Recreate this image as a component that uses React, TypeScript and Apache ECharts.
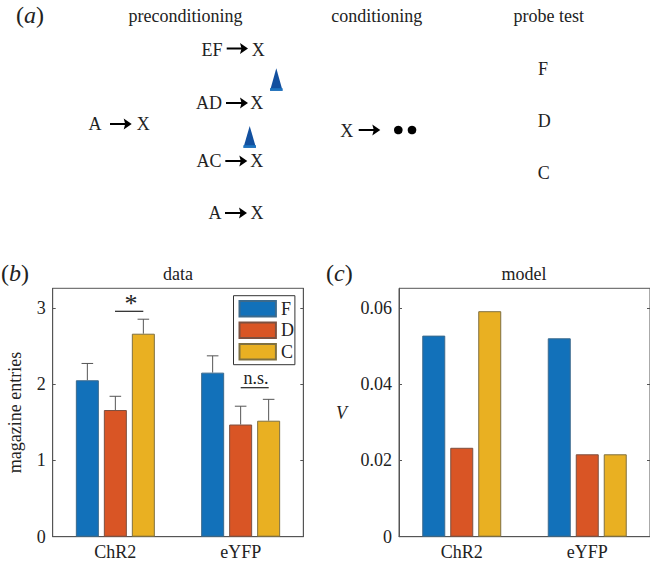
import React, { useEffect, useRef } from "react";
import * as echarts from "echarts";

const categories = ["ChR2", "eYFP"];
const cues = ["F", "D", "C"];
const dataF = [2.05, 2.15];
const dataD = [1.66, 1.47];
const dataC = [2.66, 1.52];
const errTopF = [2.27, 2.37];
const errTopD = [1.84, 1.71];
const errTopC = [2.85, 1.8];
const modelF = [0.0527, 0.052];
const modelD = [0.0233, 0.0216];
const modelC = [0.0591, 0.0216];
const dataTicks = [0, 1, 2, 3];
const modelTicks = [0, 0.02, 0.04, 0.06];

const FONT = "'Liberation Serif', serif";
const INK = "#222222";
const AXIS = "#555555";
const colors = ["#1271ba", "#d95525", "#e9b022"];
const borders = ["#3c6a8c", "#7d5040", "#7f7040"];
const BAR_W = 23;
const PITCH = 28;

const txt = (text: string, x: number, y: number, fontSize = 18, extra: any = {}) => ({
  type: "text",
  x,
  y,
  silent: true,
  style: { text, fontSize, fontFamily: FONT, fill: INK, align: "center", verticalAlign: "middle", ...extra },
});

const arrow = (x1: number, x2: number, y: number) => [
  { type: "line", silent: true, shape: { x1, y1: y, x2: x2 - 6, y2: y }, style: { stroke: "#000", lineWidth: 2 } },
  {
    type: "polygon",
    silent: true,
    shape: { points: [[x2 - 8, y - 5.5], [x2, y], [x2 - 8, y + 5.5], [x2 - 6.5, y]] },
    style: { fill: "#000" },
  },
];

const pointer = (cx: number, top: number, bottom: number) => [
  {
    type: "polygon",
    silent: true,
    shape: { points: [[cx, top], [cx + 6.3, bottom], [cx - 6.3, bottom]] },
    style: { fill: "#12509f" },
  },
  {
    type: "rect",
    silent: true,
    shape: { x: cx - 6.3, y: bottom - 2.5, width: 12.6, height: 2.5 },
    style: { fill: "#1c74c0" },
  },
];

const panelLabel = (letter: string, x: number, y: number) => ({
  type: "text",
  x,
  y,
  silent: true,
  style: {
    text: `{n|(}{i|${letter}}{n|)}`,
    verticalAlign: "middle",
    rich: {
      n: { fontSize: 24, fontFamily: FONT, fill: INK },
      i: { fontSize: 24, fontFamily: FONT, fontStyle: "italic", fill: INK },
    },
  },
});

const barSeries = (name: string, values: number[], idx: number, axis: number) => ({
  type: "bar",
  name,
  xAxisIndex: axis,
  yAxisIndex: axis * 2,
  data: values,
  barWidth: BAR_W,
  barGap: "21.7%",
  itemStyle: { color: colors[idx], borderColor: borders[idx], borderWidth: 1 },
});

const errorSeries = (tops: number[], values: number[], idx: number) => ({
  type: "custom",
  xAxisIndex: 0,
  yAxisIndex: 0,
  z: 1,
  silent: true,
  data: tops.map((t, i) => [i, values[i], t]),
  encode: { x: 0, y: 2 },
  renderItem: (_: any, api: any) => {
    const base = api.coord([api.value(0), api.value(1)]);
    const top = api.coord([api.value(0), api.value(2)]);
    const x = base[0] + (idx - 1) * PITCH;
    const style = { stroke: AXIS, lineWidth: 1, fill: "none" };
    return {
      type: "group",
      children: [
        { type: "line", shape: { x1: x, y1: base[1], x2: x, y2: top[1] }, style },
        { type: "line", shape: { x1: x - 5.8, y1: top[1], x2: x + 5.8, y2: top[1] }, style },
      ],
    };
  },
});

const xAxisBase = (gridIndex: number) => ({
  type: "category",
  gridIndex,
  data: categories,
  axisTick: { show: false },
  axisLine: { lineStyle: { color: AXIS } },
  axisLabel: { fontSize: 18, fontFamily: FONT, color: INK, margin: 6 },
});

const yAxisLeft = (gridIndex: number, max: number, ticks: number[], extra: any = {}) => ({
  type: "value",
  gridIndex,
  min: 0,
  max,
  position: "left",
  splitLine: { show: false },
  axisLine: { show: true, lineStyle: { color: AXIS } },
  axisTick: { show: true, inside: true, length: 3, customValues: ticks, lineStyle: { color: AXIS } },
  axisLabel: { fontSize: 18, fontFamily: FONT, color: INK, margin: 7, customValues: ticks },
  ...extra,
});

const yAxisRight = (gridIndex: number, max: number, ticks: number[]) => ({
  type: "value",
  gridIndex,
  min: 0,
  max,
  position: "right",
  splitLine: { show: false },
  axisLine: { show: true, lineStyle: { color: AXIS } },
  axisTick: { show: true, inside: true, length: 3, customValues: ticks, lineStyle: { color: AXIS } },
  axisLabel: { show: false },
});

const schematic = [
  panelLabel("a", 16, 15),
  txt("preconditioning", 185.5, 16),
  txt("conditioning", 376.7, 16),
  txt("probe test", 548.7, 16),
  txt("EF", 212, 49.5),
  ...arrow(226.7, 248, 48.5),
  txt("X", 258.3, 50),
  txt("AD", 209, 102.7),
  ...arrow(226, 248, 103),
  txt("X", 256.7, 102.7),
  txt("AC", 209, 161),
  ...arrow(225.3, 247.3, 161),
  txt("X", 256.7, 160.5),
  txt("A", 215, 213),
  ...arrow(225, 247, 213),
  txt("X", 257, 213),
  txt("A", 95, 124),
  ...arrow(110, 131.7, 124),
  txt("X", 143.3, 124),
  ...pointer(276.3, 68.3, 90.7),
  ...pointer(249.7, 126, 147.7),
  txt("X", 346.7, 131),
  ...arrow(358.7, 380.3, 130),
  { type: "circle", silent: true, shape: { cx: 398.3, cy: 130, r: 4.3 }, style: { fill: "#000" } },
  { type: "circle", silent: true, shape: { cx: 412, cy: 130, r: 4.3 }, style: { fill: "#000" } },
  txt("F", 543, 69),
  txt("D", 544.3, 121),
  txt("C", 543.7, 173.3),
  panelLabel("b", 1, 273),
  panelLabel("c", 326, 273),
  txt("data", 178, 274),
  txt("model", 524, 274),
  { type: "line", silent: true, z: 5, shape: { x1: 115, y1: 311.3, x2: 143.3, y2: 311.3 }, style: { stroke: "#222", lineWidth: 1.2 } },
  txt("*", 131, 303, 26),
  { type: "line", silent: true, z: 5, shape: { x1: 240.7, y1: 387.7, x2: 268.7, y2: 387.7 }, style: { stroke: "#222", lineWidth: 1.2 } },
  txt("n.s.", 256, 378.3),
];

export default function App() {
  const ref = useRef<HTMLDivElement>(null);
  useEffect(() => {
    const chart = echarts.init(ref.current!, undefined, { renderer: "svg" });
    chart.setOption({
      animation: false,
      backgroundColor: "#fff",
      grid: [
        { left: 52.7, top: 288.3, width: 250.6, height: 248.4, show: true, borderColor: AXIS, borderWidth: 1 },
        { left: 399, top: 288.3, width: 251, height: 248.4, show: true, borderColor: AXIS, borderWidth: 1 },
      ],
      xAxis: [xAxisBase(0), xAxisBase(1)],
      yAxis: [
        yAxisLeft(0, 3.255, dataTicks, {
          name: "magazine entries",
          nameLocation: "middle",
          nameGap: 29,
          nameTextStyle: { fontSize: 18, fontFamily: FONT, color: INK },
        }),
        yAxisRight(0, 3.255, dataTicks),
        yAxisLeft(1, 0.0651, modelTicks, {
          name: "V",
          nameLocation: "middle",
          nameRotate: 0,
          nameGap: 52,
          nameTextStyle: { fontSize: 18, fontFamily: FONT, fontStyle: "italic", color: INK },
        }),
        yAxisRight(1, 0.0651, modelTicks),
      ],
      legend: {
        data: cues,
        left: 233.5,
        top: 295.7,
        orient: "vertical",
        icon: "rect",
        itemWidth: 36.4,
        itemHeight: 15.5,
        itemGap: 3.5,
        padding: [4, 1, 4, 5],
        selectedMode: false,
        backgroundColor: "#fff",
        borderColor: "#333",
        borderWidth: 1,
        borderRadius: 0,
        textStyle: { fontSize: 18, fontFamily: FONT, color: INK },
      },
      series: [
        barSeries(cues[0], dataF, 0, 0),
        barSeries(cues[1], dataD, 1, 0),
        barSeries(cues[2], dataC, 2, 0),
        errorSeries(errTopF, dataF, 0),
        errorSeries(errTopD, dataD, 1),
        errorSeries(errTopC, dataC, 2),
        barSeries(cues[0], modelF, 0, 1),
        barSeries(cues[1], modelD, 1, 1),
        barSeries(cues[2], modelC, 2, 1),
      ],
      graphic: schematic,
    });
    return () => chart.dispose();
  }, []);
  return (
    <div
      ref={ref}
      style={{ position: "absolute", left: 0, top: 0, width: 650, height: 561 }}
    />
  );
}
